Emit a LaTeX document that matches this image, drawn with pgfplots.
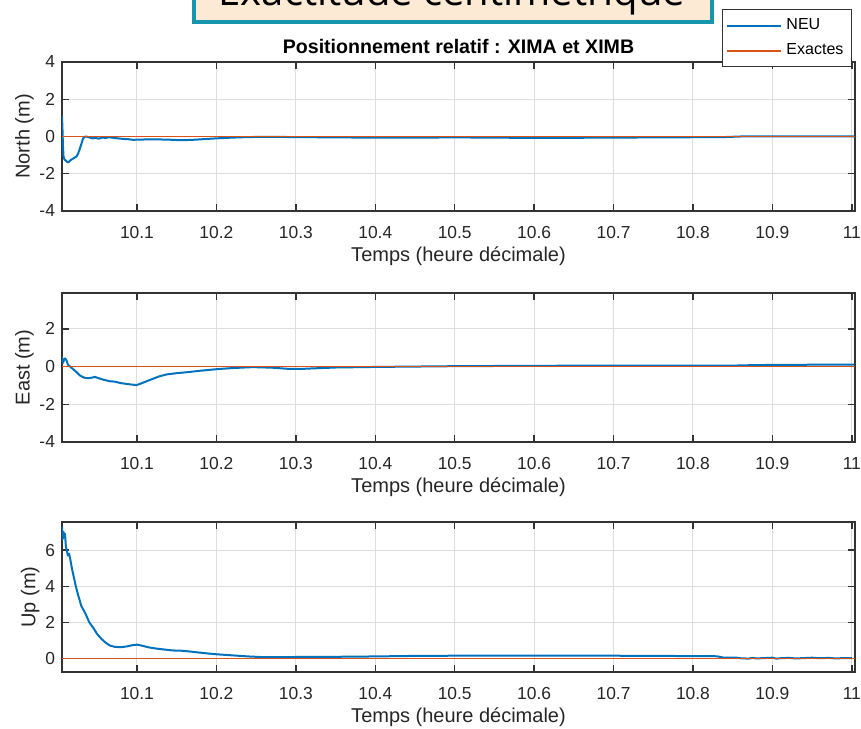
\documentclass[border=0pt]{standalone}
\usepackage{pgfplots}
\pgfplotsset{compat=1.18}
\usepackage{fontspec}
\setmainfont{Liberation Sans}
\newfontfamily\boxfont{Open Sans}
\definecolor{neu}{RGB}{0,114,189}
\definecolor{exa}{RGB}{217,83,25}
\definecolor{boxfill}{RGB}{252,234,212}
\definecolor{boxedge}{RGB}{22,150,172}
\pgfplotsset{
  myax/.style={
    scale only axis, width=396.5pt, height=74.5pt,
    xmin=10.0056, xmax=11.004,
    xtick={10.1,10.2,10.3,10.4,10.5,10.6,10.7,10.8,10.9,11},
    xticklabels={10.1,10.2,10.3,10.4,10.5,10.6,10.7,10.8,10.9,11},
    tick align=inside, major tick length=3.5pt,
    xtick pos=both, ytick pos=both,
    grid=major, major grid style={black!13, line width=0.5pt},
    axis line style={black!80, line width=0.7pt},
    tick style={black!80, line width=0.7pt},
    ticklabel style={font=\fontsize{8.7}{10}\selectfont, text=black!85},
    xticklabel style={yshift=-4pt},
    label style={font=\fontsize{10}{12}\selectfont, text=black!85},
    xlabel={Temps (heure décimale)},
    xlabel style={at={(rel axis cs:0.5,0)}, anchor=center, yshift=-22.5pt},
    ylabel style={yshift=-4pt},
    /pgf/number format/assume math mode=true,
  },
  neuline/.style={color=neu, line width=1pt, line join=round},
  exaline/.style={color=exa, line width=0.7pt},
}
\begin{document}
\begin{tikzpicture}
\useasboundingbox (0pt,0pt) rectangle (430.5pt,364pt);
\clip (0pt,0pt) rectangle (430.5pt,364pt);
% partially visible title box
\fill[boxfill] (97pt,353pt) rectangle (356pt,370pt);
\draw[boxedge, line width=2pt] (97pt,370pt) -- (97pt,353pt) -- (356pt,353pt) -- (356pt,370pt);
\node[anchor=base, font=\boxfont\fontsize{20}{24}\selectfont, inner sep=0pt] at (226pt,361pt) {Exactitude centimétrique};
% North
\begin{axis}[myax, at={(31pt,258.5pt)}, anchor=south west,
  ymin=-4, ymax=4, ytick={-4,-2,0,2,4}, yticklabels={-4,-2,0,2,4},
  ylabel={North (m)},
  title={Positionnement relatif : XIMA et XIMB},
  title style={font=\bfseries\fontsize{9.8}{11}\selectfont, yshift=-5.5pt},
  legend style={at={(0.9962,1.3557)}, anchor=north east, draw=black!80, line width=0.6pt,
    font=\fontsize{8}{9}\selectfont, inner xsep=2pt, inner ysep=2.5pt, row sep=1.5pt,
    cells={anchor=west}, fill=white},
]
\addplot[neuline, forget plot] coordinates {
(10.0056,1.1) (10.0062,0.4) (10.0068,-0.5) (10.0075,-1.05) (10.0085,-1.22) (10.010,-1.28)
(10.012,-1.36) (10.0135,-1.38) (10.015,-1.33) (10.017,-1.25) (10.019,-1.2) (10.021,-1.15)
(10.024,-1.07) (10.026,-0.9) (10.028,-0.66) (10.030,-0.4) (10.032,-0.12) (10.034,-0.02)
(10.036,0.0) (10.040,-0.05) (10.044,-0.1) (10.048,-0.07) (10.052,-0.12) (10.056,-0.05)
(10.060,-0.08) (10.065,-0.04) (10.070,-0.07) (10.080,-0.12) (10.090,-0.15) (10.095,-0.18)
(10.100,-0.17) (10.120,-0.15) (10.140,-0.17) (10.155,-0.2) (10.170,-0.18) (10.185,-0.14)
(10.200,-0.1) (10.220,-0.06) (10.240,-0.03) (10.260,-0.02) (10.300,-0.03) (10.350,-0.05)
(10.400,-0.06) (10.450,-0.06) (10.500,-0.05) (10.550,-0.06) (10.600,-0.08) (10.650,-0.07)
(10.700,-0.06) (10.750,-0.05) (10.800,-0.04) (10.840,-0.03) (10.860,0.0) (10.900,0.0)
(10.950,0.01) (11.003,0.0)
};
\addlegendimage{color=neu, line width=1pt, legend image code/.code={\draw[color=neu,line width=1pt] (0pt,0pt) -- (27pt,0pt);}}
\addlegendentry{NEU}
\addplot[exaline, legend image code/.code={\draw[color=exa,line width=1pt] (0pt,0pt) -- (27pt,0pt);}] coordinates {(10.0056,0) (11.004,0)};
\addlegendentry{Exactes}
\end{axis}
% East
\begin{axis}[myax, at={(31pt,143pt)}, anchor=south west,
  ymin=-4, ymax=3.9, ytick={-4,-2,0,2}, yticklabels={-4,-2,0,2},
  ylabel={East (m)},
]
\addplot[neuline] coordinates {
(10.0056,0.5) (10.0070,0.2) (10.0080,0.35) (10.0094,0.43) (10.0110,0.35) (10.0130,0.1)
(10.0157,0.0) (10.020,-0.15) (10.024,-0.3) (10.0283,-0.48) (10.033,-0.58) (10.037,-0.62)
(10.042,-0.6) (10.047,-0.55) (10.052,-0.62) (10.058,-0.7) (10.066,-0.78) (10.072,-0.8)
(10.080,-0.88) (10.087,-0.92) (10.094,-0.96) (10.0996,-0.98) (10.105,-0.9) (10.112,-0.78)
(10.120,-0.65) (10.128,-0.52) (10.137,-0.42) (10.150,-0.35) (10.163,-0.3) (10.180,-0.22)
(10.200,-0.14) (10.220,-0.08) (10.246,-0.03) (10.270,-0.06) (10.290,-0.12) (10.305,-0.13)
(10.320,-0.1) (10.350,-0.05) (10.400,-0.02) (10.450,0.0) (10.500,0.02) (10.600,0.04)
(10.700,0.05) (10.800,0.05) (10.850,0.05) (10.880,0.08) (10.920,0.09) (10.960,0.1)
(11.003,0.1)
};
\addplot[exaline] coordinates {(10.0056,0) (11.004,0)};
\end{axis}
% Up
\begin{axis}[myax, at={(31pt,28pt)}, anchor=south west, height=75pt,
  ymin=-0.74, ymax=7.55, ytick={0,2,4,6}, yticklabels={0,2,4,6},
  ylabel={Up (m)},
]
\addplot[neuline] coordinates {
(10.0056,7.3) (10.0065,6.6) (10.0075,7.0) (10.0085,6.7) (10.0094,6.9) (10.0105,6.2)
(10.0115,6.0) (10.013,5.7) (10.0145,5.8) (10.016,5.5) (10.018,5.0) (10.020,4.6)
(10.023,4.0) (10.026,3.5) (10.030,2.9) (10.035,2.5) (10.040,2.0) (10.045,1.7)
(10.050,1.35) (10.055,1.1) (10.060,0.9) (10.066,0.72) (10.072,0.65) (10.080,0.63)
(10.088,0.68) (10.095,0.75) (10.100,0.77) (10.105,0.73) (10.115,0.62) (10.125,0.55)
(10.135,0.5) (10.145,0.45) (10.155,0.44) (10.165,0.4) (10.175,0.35) (10.190,0.28)
(10.200,0.24) (10.220,0.18) (10.240,0.12) (10.260,0.08) (10.280,0.08) (10.300,0.09)
(10.350,0.1) (10.400,0.12) (10.450,0.15) (10.500,0.16) (10.550,0.16) (10.600,0.17)
(10.650,0.17) (10.700,0.16) (10.750,0.15) (10.800,0.14) (10.830,0.13) (10.838,0.06)
(10.855,0.05) (10.860,0.02) (10.870,0.0) (10.875,0.04) (10.880,0.01) (10.890,0.03)
(10.900,0.05) (10.905,0.0) (10.910,0.02) (10.920,0.04) (10.930,0.01) (10.940,0.03)
(10.950,0.05) (10.960,0.02) (10.970,0.04) (10.980,0.01) (10.990,0.03) (11.000,0.02)
};
\addplot[exaline] coordinates {(10.0056,0) (11.004,0)};
\end{axis}
\end{tikzpicture}
\end{document}
